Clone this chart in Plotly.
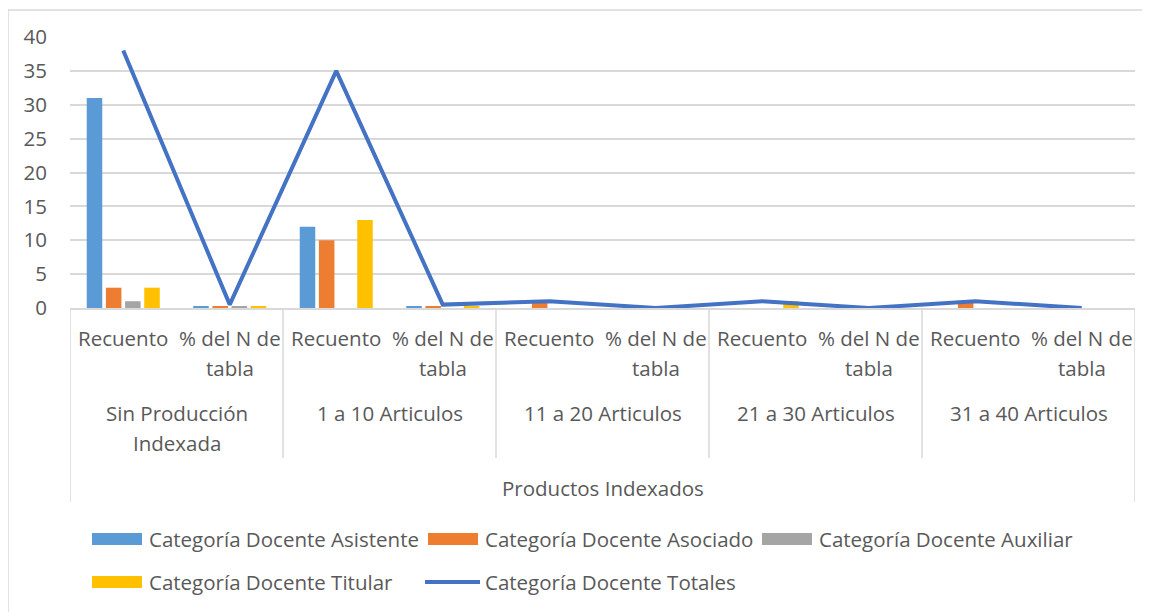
import plotly.graph_objects as go

grupos = ["Sin Producción<br>Indexada", "1 a 10 Articulos", "11 a 20 Articulos",
          "21 a 30 Articulos", "31 a 40 Articulos"]
subcategorias = ["Recuento", "% del N de<br>tabla"]
titulo_eje = "Productos Indexados"

asistente = [31, 0.3, 12, 0.3, 0, 0, 0, 0, 0, 0]
asociado = [3, 0.3, 10, 0.3, 1, 0, 0, 0, 1, 0]
auxiliar = [1, 0.3, 0, 0, 0, 0, 0, 0, 0, 0]
titular = [3, 0.3, 13, 0.3, 0, 0, 1, 0, 0, 0]
totales = [38, 0.5, 35, 0.5, 1, 0, 1, 0, 1, 0]

series = [
    ("Categoría Docente Asistente", asistente, "#5B9BD5"),
    ("Categoría Docente Asociado", asociado, "#ED7D31"),
    ("Categoría Docente Auxiliar", auxiliar, "#A5A5A5"),
    ("Categoría Docente Titular", titular, "#FFC000"),
]
linea = ("Categoría Docente Totales", totales, "#4472C4")

# the page body has an 8px margin, so work in page pixels and shift
OFF = 8
W, H = 1150 - OFF, 612 - OFF
L, R, T, B = 70, 1135, 37, 308
TXT = "#595959"
GRID = "#D9D9D9"
FONT = "Open Sans"
FS = 20.5

x = list(range(len(grupos) * len(subcategorias)))


def py(p):
    # page pixel row -> paper y
    return (B - p) / (B - T)


def pxx(p):
    return (p - L) / (R - L)


fig = go.Figure()
for nombre, vals, color in series:
    fig.add_trace(go.Bar(x=x, y=vals, name=nombre, marker_color=color,
                         marker_line_width=0))
fig.add_trace(go.Scatter(x=x, y=linea[1], name=linea[0], mode="lines",
                         line=dict(color=linea[2], width=4)))

ann = []
shapes = []
fnt = dict(size=FS, color=TXT, family=FONT)

# subcategory labels
for i in x:
    lineas = subcategorias[i % len(subcategorias)].split("<br>")
    for k, t in enumerate(lineas):
        ann.append(dict(x=i, y=py(338 + 30 * k), xref="x", yref="paper", text=t,
                        showarrow=False, xanchor="center", yanchor="middle", font=fnt))

# group labels
n = len(subcategorias)
for g, nombre in enumerate(grupos):
    c = g * n + (n - 1) / 2
    for k, t in enumerate(nombre.split("<br>")):
        ann.append(dict(x=c, y=py(413 + 30 * k), xref="x", yref="paper", text=t,
                        showarrow=False, xanchor="center", yanchor="middle", font=fnt))

ann.append(dict(x=0.5, y=py(488), xref="paper", yref="paper", text=titulo_eje,
                showarrow=False, xanchor="center", yanchor="middle", font=fnt))

# dividers of the category axis
for g in range(len(grupos) + 1):
    xb = g * n - 0.5
    bottom = 502 if g in (0, len(grupos)) else 458
    shapes.append(dict(type="line", xref="x", yref="paper", x0=xb, x1=xb,
                       y0=0, y1=py(bottom), line=dict(color=GRID, width=1.5)))

# outer frame
shapes.append(dict(type="rect", xref="paper", yref="paper",
                   x0=pxx(8), x1=pxx(1160), y0=py(10), y1=py(620),
                   line=dict(color=GRID, width=1.5)))

# manual legend
leg = [
    (series[0], 92, 539), (series[1], 428, 539), (series[2], 762, 539),
    (series[3], 92, 582), (linea, 425, 582),
]
for (nombre, _, color), lx, ly in leg:
    if nombre == linea[0]:
        shapes.append(dict(type="line", xref="paper", yref="paper",
                           x0=pxx(lx), x1=pxx(lx + 55), y0=py(ly), y1=py(ly),
                           line=dict(color=color, width=4)))
        tx = lx + 58
    else:
        shapes.append(dict(type="rect", xref="paper", yref="paper",
                           x0=pxx(lx), x1=pxx(lx + 50), y0=py(ly - 6), y1=py(ly + 6),
                           fillcolor=color, line=dict(width=0)))
        tx = lx + 55
    ann.append(dict(x=pxx(tx), y=py(ly), xref="paper", yref="paper",
                    text=nombre, showarrow=False, xanchor="left", yanchor="middle",
                    font=fnt))

fig.update_layout(
    width=W, height=H,
    margin=dict(l=L - OFF, r=W - (R - OFF), t=T - OFF, b=H - (B - OFF)),
    paper_bgcolor="white", plot_bgcolor="white",
    barmode="group", bargap=0.28, bargroupgap=0.19,
    showlegend=False,
    annotations=ann, shapes=shapes,
    font=fnt,
)
fig.update_xaxes(range=[-0.5, len(x) - 0.5], showticklabels=False,
                 showgrid=False, zeroline=False, showline=True,
                 linecolor=GRID, linewidth=1.5)
fig.update_yaxes(range=[0, 40], dtick=5, showgrid=True, gridcolor=GRID,
                 gridwidth=1.5, zeroline=False, showline=False,
                 tickfont=fnt, ticklabelstandoff=22)

fig.write_html("out.html")
